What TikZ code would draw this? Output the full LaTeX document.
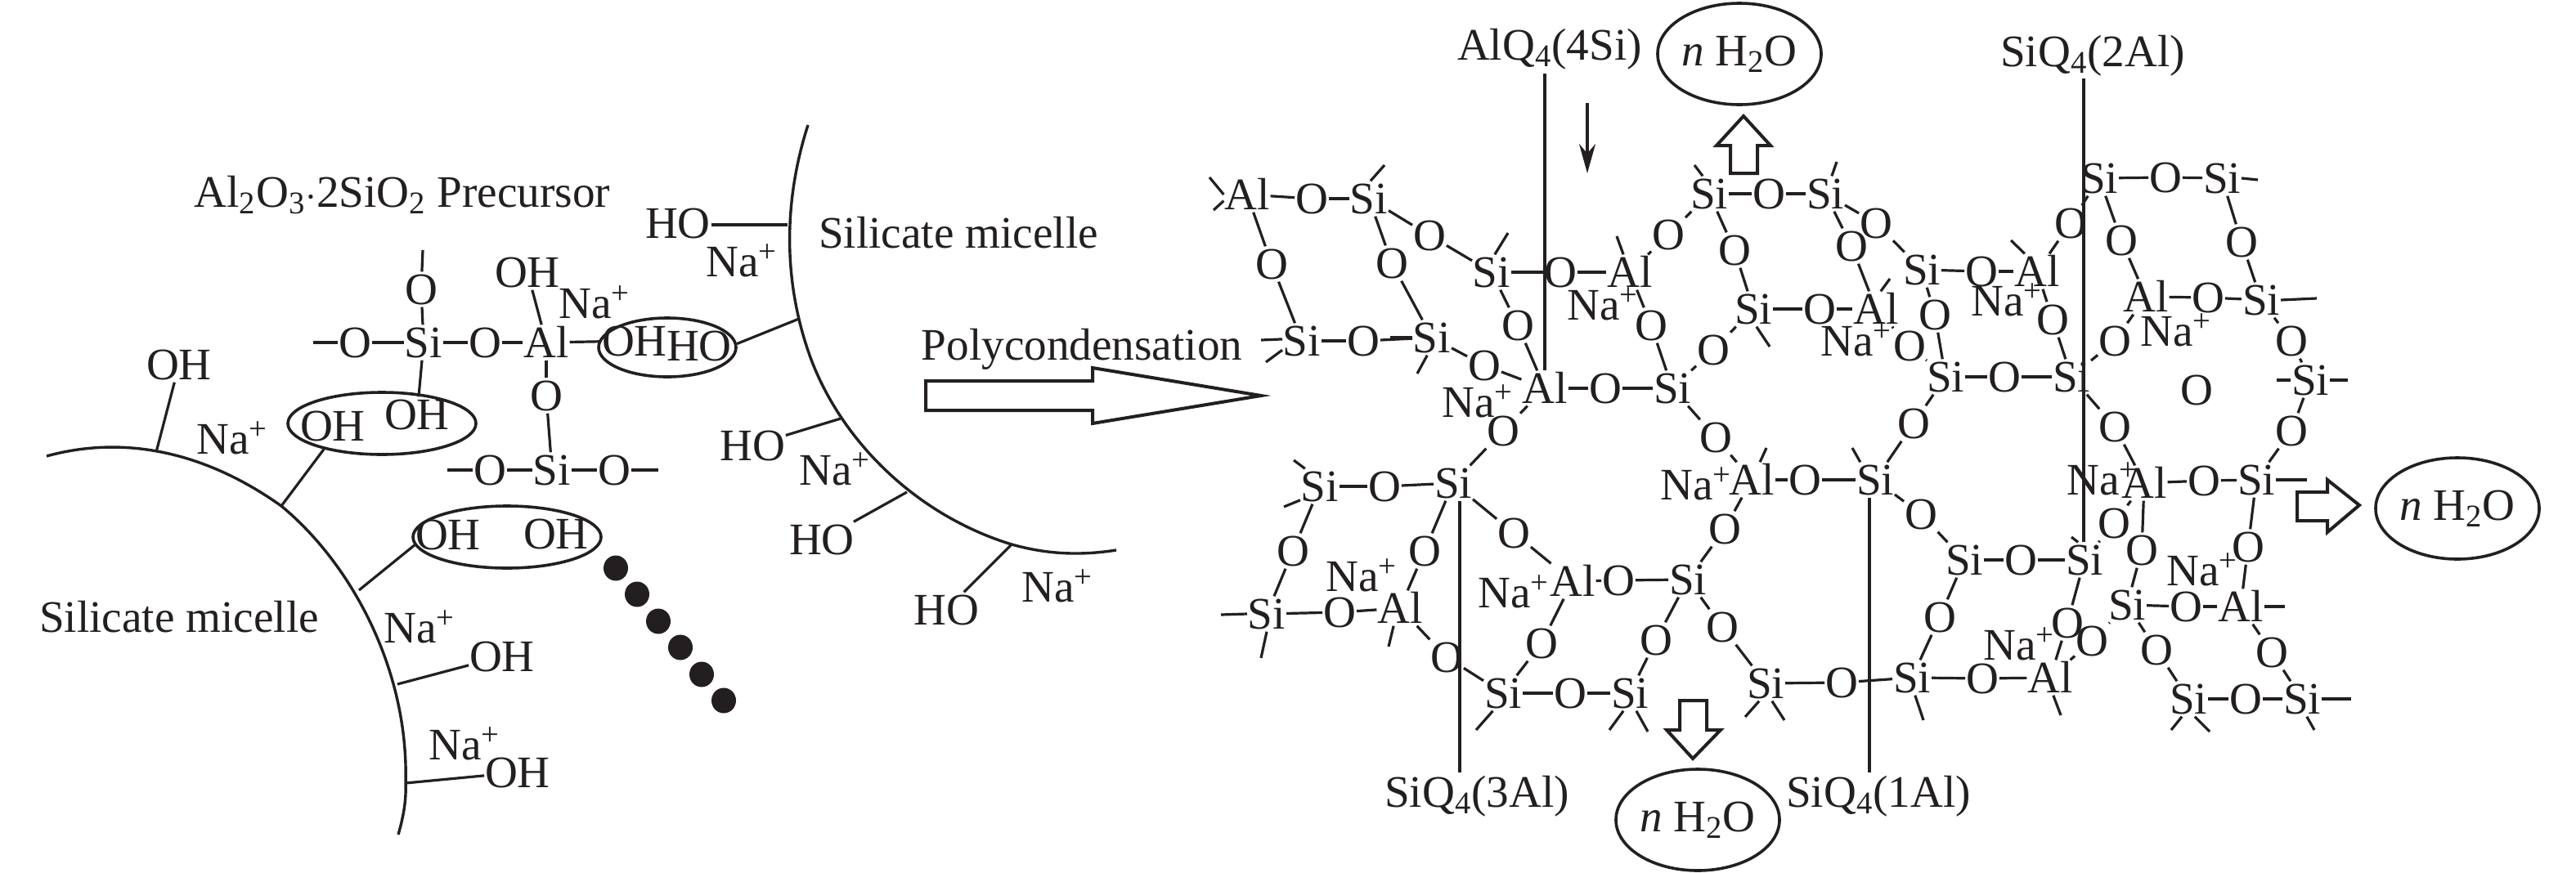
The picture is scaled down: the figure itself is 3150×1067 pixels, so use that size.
\documentclass[tikz,border=0pt]{standalone}
\usepackage{fontspec}
\setmainfont{Liberation Serif}
\usetikzlibrary{shapes.geometric,arrows.meta}
\definecolor{ink}{HTML}{231F20}
\tikzset{
  txt/.style={font=\fontsize{27.6}{30}\selectfont,text=ink,inner xsep=0.3pt,inner ysep=1.5pt,text height=18.3pt,text depth=0pt,anchor=center},
  bond/.style={draw=ink,line width=1.6pt},
  curve/.style={draw=ink,line width=1.7pt},
  hollow/.style={draw=ink,line width=2pt,fill=white,miter limit=10},
  ring/.style={ellipse,draw=ink,line width=1.8pt,inner sep=0pt},
  wat/.style={ring,minimum width=98pt,minimum height=62pt,font=\fontsize{27.6}{30}\selectfont,text=ink},
  blob/.style={ellipse,fill=ink,inner sep=0pt,minimum width=15pt,minimum height=15.5pt}
}
\newcommand\Atoms[2]{\foreach \nm/\xx/\yy in {#1}{\node[txt] (\nm) at (\xx,\yy) {#2};}}
\newcommand\Bonds[1]{\foreach \aa/\bb in {#1}{\draw[bond] (\aa) -- (\bb);}}
\newcommand\Stubs[1]{\foreach \aa/\ang/\xx/\yy in {#1}{\coordinate (e\aa\ang) at (\xx,\yy); \draw[bond] (\aa.\ang) -- (e\aa\ang);}}
\newcommand\NaP{Na\textsuperscript{+}}
\newcommand\Wat{\textit{n} H\textsubscript{2}O}
\begin{document}
\begin{tikzpicture}[x=0.5pt,y=-0.5pt]
\useasboundingbox (0,0) rectangle (3150,1067);
% ---------- micelles
\draw[curve] (57,558) .. controls (140,535) and (240,545) .. (344,619) .. controls (430,690) and (500,820) .. (496,958) .. controls (497,980) and (493,1000) .. (487,1021);
\draw[curve] (988,153) .. controls (960,240) and (955,340) .. (992,440) .. controls (1030,540) and (1120,630) .. (1237,666) .. controls (1280,678) and (1320,680) .. (1365,673);
\coordinate (ma) at (191,553); \coordinate (mb) at (344,619); \coordinate (mc) at (439,722);
\coordinate (md) at (486,837); \coordinate (me) at (496,958);
\coordinate (na) at (963,275); \coordinate (nb) at (977,390); \coordinate (nc) at (1028,512);
\coordinate (nd) at (1109,602); \coordinate (ne) at (1237,666);
\node[txt] (prec) at (492,235) {Al\textsubscript{2}O\textsubscript{3}$\cdot$2SiO\textsubscript{2} Precursor};
\node[txt] (mic1) at (219,755) {Silicate micelle};
\node[txt] (mic2) at (1172,285) {Silicate micelle};
\node[txt] (poly) at (1323,422) {Polycondensation};
\node[ring,minimum width=84pt,minimum height=36pt] (el1) at (816,425) {};
\node[ring,minimum width=115pt,minimum height=38pt] (el2) at (467,518) {};
\node[ring,minimum width=115pt,minimum height=38pt] (el3) at (620,657) {};
\Atoms{oh1/776/417,oh2/510/507,oh3/407/521,oh4/219/446,oh5/548/654,oh6/680/653,oh7/614/803,oh8/633/945,poh/645/333}{OH}
\Atoms{ho1/855/423,ho2/829/273,ho3/920/545,ho4/1005/660,ho5/1157/746}{HO}
\Atoms{pna/727/371,na1/284/537,na2/513/768,na3/568/911,na4/907/320,na5/1021/575,na6/1293/718}{\NaP}
\Atoms{psa/518/419,psb/675/575}{Si}
\Atoms{poa/434/419,pob/593/419,poc/515/354,pod/668/484,poe/599/575,pof/751/575}{O}
\node[txt] (pal) at (668,419) {Al};
\coordinate (pza) at (517,306); \coordinate (pzb) at (383,419); \coordinate (pzc) at (547,575); \coordinate (pzd) at (805,575);
\Bonds{poa/psa,psa/pob,pob/pal,pal/poh,pal/oh1,psa/poc,poc/pza,psa/oh2,pal/pod,pod/psb,psb/poe,psb/pof,poa/pzb,poe/pzc,pof/pzd}
\draw[bond] (oh4) -- (ma); \draw[bond] (el2.204) -- (mb); \draw[bond] (el3.185) -- (mc);
\draw[bond] (oh7) -- (md); \draw[bond] (oh8) -- (me);
\draw[bond] (ho2.east |- na) -- (na); \draw[bond] (el1.3) -- (nb); \draw[bond] (ho3) -- (nc);
\draw[bond] (ho4) -- (nd); \draw[bond] (ho5) -- (ne);
\foreach \i/\xx/\yy in {1/753/695,2/779/727,3/805/760,4/832/792,5/858/825,6/885/857}{\node[blob] (dot\i) at (\xx,\yy) {};}
% main arrow
\draw[hollow] (1132,466) -- (1336,466) -- (1336,450) -- (1542,484) -- (1336,518) -- (1336,502) -- (1132,502) -- cycle;
% ---------- network atoms
\Atoms{a1525/1525/238,a1712/1712/744,a1889/1889/475,a1923/1923/711,a1993/1993/333,a2142/2142/587,a2294/2294/378,a2491/2491/332,a2507/2507/829,a2622/2622/591,a2624/2624/363,a2740/2740/742}{Al}
\Atoms{s1592/1592/417,s1674/1674/243,s1751/1751/413,s1824/1824/333,s1614/1614/595,s1777/1777/591,s1549/1549/751,s1838/1838/848,s1993/1993/848,s2045/2045/475,s2064/2064/709,s2090/2090/237,s2144/2144/378,s2159/2159/836,s2232/2232/237,s2293/2293/587,s2338/2338/829,s2350/2350/330,s2379/2379/461,s2402/2402/685,s2533/2533/461,s2549/2549/685,s2567/2567/218,s2601/2601/740,s2676/2676/855,s2717/2717/218,s2759/2759/587,s2765/2765/367,s2815/2815/855,s2825/2825/465}{Si}
\Atoms{o1555/1555/323,o1604/1604/243,o1667/1667/417,o1702/1702/322,o1748/1748/288,o1815/1815/447,o1856/1856/398,o1908/1908/333,o1963/1963/475,o2019/2019/398,o2040/2040/287,o2095/2095/428,o2121/2121/306,o2163/2163/237,o2225/2225/378,o2264/2264/301,o2294/2294/273,o2335/2335/423,o2366/2366/385,o2423/2423/332,o2451/2451/461,o2510/2510/391,o2532/2532/273,o2586/2586/417,o2594/2594/294,o2648/2648/217,o2686/2686/477,o2700/2700/364,o2741/2741/296,o2802/2802/417}{O}
\Atoms{o1581/1581/674,o1638/1638/749,o1693/1693/595,o1742/1742/674,o1769/1769/804,o1838/1838/527,o1851/1851/652,o1885/1885/787,o1920/1920/848,o1979/1979/710,o2025/2025/783,o2098/2098/535,o2106/2106/767,o2109/2109/647,o2207/2207/587,o2252/2252/835,o2340/2340/518,o2349/2349/629,o2372/2372/755,o2424/2424/830,o2471/2471/685,o2528/2528/762,o2558/2558/784,o2585/2585/640,o2586b/2586/522,o2619/2619/673,o2637/2637/795,o2673/2673/742,o2695/2695/588,o2746/2746/855,o2749/2749/669,o2778/2778/798,o2802b/2802/527}{O}
\Atoms{nb1/1807/492,nb2/1960/373,nb3/2270/417,nb4/2454/368,nb5/2661/405,nb6/1665/705,nb7/1851/725,nb8/2074/593,nb9/2571/587,nb10/2693/698,nb11/2469/789}{\NaP}
% ---------- network bonds
\Bonds{a1525/o1604,o1604/s1674,a1525/o1555,o1555/s1592,s1592/o1667,o1667/s1751,s1674/o1702,o1702/s1751,s1674/o1748,o1748/s1824,s1751/o1815,o1815/a1889,s1824/o1856,o1856/a1889,s1824/o1908,o1908/a1993,a1993/o2040,o2040/s2090,s2090/o2163,o2163/s2232,s2090/o2121,o2121/s2144,s2144/o2225,o2225/a2294,s2232/o2264,o2264/a2294,s2232/o2294,o2294/s2350,s2350/o2423,o2423/a2491,s2350/o2366,o2366/s2379,a2294/o2335,o2335/s2379,s2379/o2451,o2451/s2533,a1993/o2019,o2019/s2045,s2045/o1963,o1963/a1889,s2045/o2095,o2095/s2144,a2491/o2532,o2532/s2567,s2567/o2648,o2648/s2717,s2567/o2594,o2594/a2624,a2624/o2700,o2700/s2765,s2717/o2741,o2741/s2765,a2624/o2586,o2586/s2533,a2491/o2510,o2510/s2533,s2765/o2802,o2802/s2825}
\Bonds{s2533/o2586b,o2586b/a2622,a2622/o2695,o2695/s2759,s2825/o2802b,o2802b/s2759,s2759/o2749,o2749/a2740,a2622/o2585,o2585/s2549,a2622/o2619,o2619/s2601,s2601/o2673,o2673/a2740,s2549/o2471,o2471/s2402,s2402/o2349,o2349/s2293,s2293/o2207,o2207/a2142,s2293/o2340,o2340/s2379,s2402/o2372,o2372/s2338,s2338/o2424,o2424/a2507,s2338/o2252,o2252/s2159,s2549/o2528,o2528/a2507,s2601/o2558,o2558/a2507,s2601/o2637,o2637/s2676,s2676/o2746,o2746/s2815,a2740/o2778,o2778/s2815}
\Bonds{s1614/o1693,o1693/s1777,s1614/o1581,o1581/s1549,s1549/o1638,o1638/a1712,s1777/o1742,o1742/a1712,a1712/o1769,o1769/s1838,s1777/o1838,o1838/a1889,s1777/o1851,o1851/a1923,a1923/o1979,o1979/s2064,a1923/o1885,o1885/s1838,s2064/o2109,o2109/a2142,s2064/o2025,o2025/s1993,s2064/o2106,o2106/s2159,s1838/o1920,o1920/s1993,s2045/o2098,o2098/a2142}
\Stubs{a1525/180/1479/217,a1525/195/1484/257,s1674/85/1693/202,s1592/175/1542/416,s1592/205/1548/443,s1751/180/1700/413,s1751/255/1733/457,s1824/80/1844/285,a1993/110/1977/289,s2090/110/2072/202,s2232/70/2246/198,s2144/280/2164/424,a2294/75/2311/341,a2491/125/2459/294,s2717/0/2761/220,s2825/180/2784/465,s2825/0/2871/465,s2765/0/2833/365,s1614/130/1582/563,s1614/215/1570/620,s1549/180/1493/752,s1549/270/1542/805,a1712/250/1698/791,s1838/240/1805/893,s1993/250/1968/893,s1993/290/2015/895,s2159/250/2134/877,s2159/290/2182/881,s2338/280/2352/881,a2507/280/2520/875,s2676/250/2655/893,s2676/290/2702/895,s2815/285/2830/893,s2815/0/2875/855,s2293/130/2265/548,s2549/110/2533/657,s2759/0/2821/587,a2740/0/2794/742,a2142/65/2160/548}
% ---------- labels and water
\node[txt] (q4si) at (1895,55) {AlQ\textsubscript{4}(4Si)};
\node[txt] (q2al) at (2559,63) {SiQ\textsubscript{4}(2Al)};
\node[txt] (q3al) at (1806,969) {SiQ\textsubscript{4}(3Al)};
\node[txt] (q1al) at (2297,969) {SiQ\textsubscript{4}(1Al)};
\coordinate (la) at (1889,90); \coordinate (lb) at (2548,96); \coordinate (lc) at (1785,945); \coordinate (ld) at (2286,945);
\draw[bond] (la) -- (la |- a1889.north);
\draw[bond] (lb) -- (lb |- s2549.north);
\draw[bond] (lc) -- (lc |- s1777.south);
\draw[bond] (ld) -- (ld |- s2293.south);
\coordinate (da) at (1941,126); \coordinate (db) at (1941,212);
\draw[bond,-{Stealth[length=18pt,width=10pt]}] (da) -- (db);
\node[wat] (w1) at (2127,66) {\Wat};
\node[wat] (w2) at (2076,1003) {\Wat};
\node[wat] (w3) at (3005,622) {\Wat};
\draw[hollow] (2116,212) -- (2116,178) -- (2099,178) -- (2132,142) -- (2165,178) -- (2149,178) -- (2149,212) -- cycle;
\draw[hollow] (2054,857) -- (2054,893) -- (2038,893) -- (2070,928) -- (2104,893) -- (2087,893) -- (2087,857) -- cycle;
\draw[hollow] (2809,602) -- (2846,602) -- (2846,587) -- (2885,618) -- (2846,651) -- (2846,637) -- (2809,637) -- cycle;
\end{tikzpicture}
\end{document}
